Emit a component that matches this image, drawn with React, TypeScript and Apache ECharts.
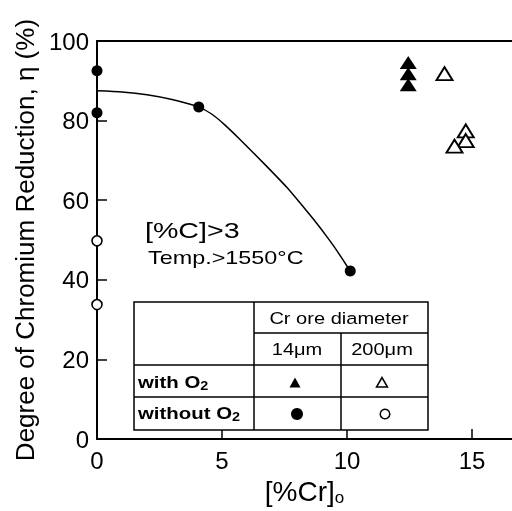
import React, { useEffect, useRef } from 'react';
import * as echarts from 'echarts';

const FONT = '"Liberation Sans", Arial, Helvetica, sans-serif';

// tick labels
const xTickValues = [0, 5, 10, 15];
const xTickMarks = [5, 10, 15];

// 14 μm, with O2 (filled triangles)
const fineWithO2 = [
  [12.45, 94.6],
  [12.45, 91.8],
  [12.45, 89.0],
];
// 200 μm, with O2 (open triangles)
const coarseWithO2 = [
  [13.9, 91.8],
  [14.75, 77.4],
  [14.75, 75.0],
  [14.3, 73.6],
];
// 14 μm, without O2 (filled circles)
const fineWithoutO2 = [
  [0, 92.5],
  [0, 82.0],
  [4.07, 83.4],
  [10.13, 42.2],
];
// 200 μm, without O2 (open circles)
const coarseWithoutO2 = [
  [0, 49.8],
  [0, 33.8],
];
// fitted curve
const curve = [
  [0, 87.5],
  [1, 87.2],
  [2, 86.5],
  [3, 85.3],
  [4.07, 83.4],
  [4.6, 81.6],
  [5.1, 79.0],
  [5.7, 75.4],
  [6.4, 71.0],
  [7.1, 66.5],
  [7.6, 63.2],
  [8.1, 59.5],
  [8.7, 54.9],
  [9.2, 50.8],
  [9.6, 47.3],
  [10.13, 42.2],
];

export default function App() {
  const ref = useRef<HTMLDivElement>(null);
  useEffect(() => {
    if (!ref.current) return;
    const chart = echarts.init(ref.current, undefined, { renderer: 'svg' });
    const lineStyle = { stroke: '#000', lineWidth: 1.5 };
    const tl = 134, tr = 428, tt = 302, tb = 430;
    const c1 = 254, c2 = 341, r1 = 333, r2 = 365, r3 = 397;
    const tableText = (text: string, x: number, y: number, align = 'center', bold = false, sx = 1.18) => ({
      type: 'text',
      x,
      y,
      scaleX: sx,
      z: 20,
      style: {
        text,
        x: 0,
        y: 0,
        fill: '#000',
        fontFamily: FONT,
        fontSize: 17,
        fontWeight: bold ? 'bold' : 'normal',
        align,
        verticalAlign: 'middle',
      },
    });
    const subText = (main: string, x: number, y: number) => ({
      type: 'text',
      x,
      y,
      scaleX: 1.2,
      z: 20,
      style: {
        text: `{a|${main}}{s|2}`,
        x: 0,
        y: 0,
        fill: '#000',
        fontFamily: FONT,
        align: 'left',
        verticalAlign: 'middle',
        rich: {
          a: { fontSize: 17, lineHeight: 20, fontWeight: 'bold', fontFamily: FONT, fill: '#000' },
          s: { fontSize: 12, lineHeight: 12, verticalAlign: 'bottom', fontWeight: 'bold', fontFamily: FONT, fill: '#000' },
        },
      },
    });
    chart.setOption({
      animation: false,
      grid: { left: 97, top: 41, right: 0, bottom: 68, containLabel: false },
      xAxis: [
        {
          type: 'value',
          min: 0,
          max: 16.6,
          interval: 5,
          position: 'bottom',
          name: '{a|[%Cr]}{b|o}',
          nameLocation: 'middle',
          nameGap: 29,
          nameTextStyle: {
            rich: {
              a: { fontSize: 28, lineHeight: 30, fontFamily: FONT, color: '#000' },
              b: { fontSize: 17, lineHeight: 10, verticalAlign: 'bottom', fontFamily: FONT, color: '#000' },
            },
          },
          axisLine: { show: true, onZero: false, lineStyle: { color: '#000', width: 2 } },
          axisTick: { show: true, inside: true, length: 10, customValues: xTickMarks, lineStyle: { color: '#000', width: 1.5 } },
          axisLabel: { customValues: xTickValues, fontSize: 24, color: '#000', fontFamily: FONT, margin: 9 },
          splitLine: { show: false },
        },
        {
          type: 'value',
          min: 0,
          max: 16.6,
          position: 'top',
          axisLine: { show: true, onZero: false, lineStyle: { color: '#000', width: 2 } },
          axisTick: { show: false },
          axisLabel: { show: false },
          splitLine: { show: false },
        },
      ],
      yAxis: {
        type: 'value',
        min: 0,
        max: 100,
        interval: 20,
        name: 'Degree of Chromium Reduction, η (%)',
        nameLocation: 'middle',
        nameRotate: 90,
        nameGap: 58,
        nameTextStyle: { fontSize: 26, color: '#000', fontFamily: FONT },
        axisLine: { show: true, onZero: false, lineStyle: { color: '#000', width: 2 } },
        axisTick: { show: true, inside: true, length: 10, lineStyle: { color: '#000', width: 1.5 } },
        axisLabel: { fontSize: 24, color: '#000', fontFamily: FONT, margin: 8 },
        splitLine: { show: false },
      },
      series: [
        {
          type: 'line',
          data: curve,
          smooth: 0.2,
          showSymbol: false,
          lineStyle: { color: '#000', width: 1.5 },
          z: 1,
        },
        {
          type: 'scatter',
          data: fineWithoutO2,
          symbol: 'circle',
          symbolSize: 11,
          itemStyle: { color: '#000', opacity: 1 },
          z: 3,
        },
        {
          type: 'scatter',
          data: coarseWithoutO2,
          symbol: 'circle',
          symbolSize: 10,
          itemStyle: { color: '#fff', borderColor: '#000', borderWidth: 1.6, opacity: 1 },
          z: 3,
        },
        {
          type: 'scatter',
          data: fineWithO2,
          symbol: 'triangle',
          symbolSize: [17, 13],
          itemStyle: { color: '#000', opacity: 1 },
          z: 3,
        },
        {
          type: 'scatter',
          data: coarseWithO2,
          symbol: 'triangle',
          symbolSize: [16, 13],
          itemStyle: { color: '#fff', borderColor: '#000', borderWidth: 1.9, opacity: 1 },
          z: 3,
        },
      ],
      graphic: [
        {
          type: 'text',
          x: 145,
          y: 230,
          scaleX: 1.3,
          style: { text: '[%C]>3', x: 0, y: 0, fill: '#000', fontFamily: FONT, fontSize: 22, align: 'left', verticalAlign: 'middle' },
        },
        {
          type: 'text',
          x: 148,
          y: 258,
          scaleX: 1.3,
          style: { text: 'Temp.>1550°C', x: 0, y: 0, fill: '#000', fontFamily: FONT, fontSize: 18, align: 'left', verticalAlign: 'middle' },
        },
        {
          type: 'rect',
          shape: { x: tl, y: tt, width: tr - tl, height: tb - tt },
          style: { fill: '#fff', stroke: '#000', lineWidth: 1.5 },
          z: 10,
        },
        { type: 'line', shape: { x1: tl, y1: r2, x2: tr, y2: r2 }, style: lineStyle, z: 11 },
        { type: 'line', shape: { x1: tl, y1: r3, x2: tr, y2: r3 }, style: lineStyle, z: 11 },
        { type: 'line', shape: { x1: c1, y1: r1, x2: tr, y2: r1 }, style: lineStyle, z: 11 },
        { type: 'line', shape: { x1: c1, y1: tt, x2: c1, y2: tb }, style: lineStyle, z: 11 },
        { type: 'line', shape: { x1: c2, y1: r1, x2: c2, y2: tb }, style: lineStyle, z: 11 },
        tableText('Cr ore diameter', 339, 318),
        tableText('14μm', 297, 349),
        tableText('200μm', 382, 349),
        subText('with O', 138, 382),
        subText('without O', 138, 413),
        {
          type: 'polygon',
          shape: { points: [[295, 377.5], [289.5, 387.5], [300.5, 387.5]] },
          style: { fill: '#000' },
          z: 20,
        },
        {
          type: 'polygon',
          shape: { points: [[382, 377.5], [376.5, 387], [387.5, 387]] },
          style: { fill: '#fff', stroke: '#000', lineWidth: 1.5 },
          z: 20,
        },
        { type: 'circle', shape: { cx: 297, cy: 414, r: 6 }, style: { fill: '#000' }, z: 20 },
        { type: 'circle', shape: { cx: 385, cy: 414, r: 4.8 }, style: { fill: '#fff', stroke: '#000', lineWidth: 1.5 }, z: 20 },
      ],
    });
    return () => chart.dispose();
  }, []);
  return <div ref={ref} style={{ position: 'fixed', left: 0, top: 0, width: 512, height: 511 }} />;
}
